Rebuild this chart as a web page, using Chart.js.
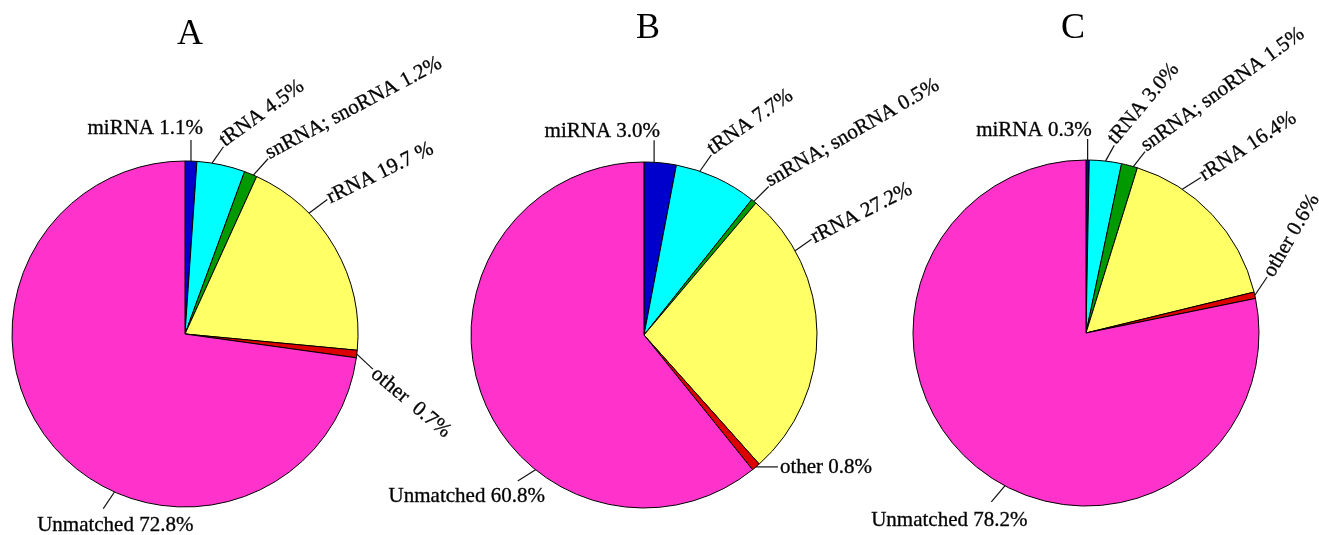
<!DOCTYPE html>
<html>
<head>
<meta charset="utf-8">
<script src="https://cdn.jsdelivr.net/npm/chart.js@4.4.1/dist/chart.umd.min.js"></script>
<style>
  html, body { margin: 0; padding: 0; background: #fff; }
  #wrap { position: relative; width: 1319px; height: 535px; overflow: hidden; }
  #wrap canvas { position: absolute; left: 0; top: 0; }
</style>
</head>
<body>
<div id="wrap">
  <canvas id="pieA" width="1319" height="535"></canvas>
  <canvas id="pieB" width="1319" height="535"></canvas>
  <canvas id="pieC" width="1319" height="535"></canvas>
</div>
<script>
// RNA classes, clockwise from 12 o'clock
const categories = ['miRNA', 'tRNA', 'snRNA; snoRNA', 'rRNA', 'other', 'Unmatched'];
// Percentage of reads in each class
const panelA = [1.1, 4.5, 1.2, 19.7, 0.7, 72.8];
const panelB = [3.0, 7.7, 0.5, 27.2, 0.8, 60.8];
const panelC = [0.3, 3.0, 1.5, 16.4, 0.6, 78.2];
const panelTitles = ['A', 'B', 'C'];

const sliceColors = ['#0000CC', '#00FFFF', '#009900', '#FFFF66', '#DD0000', '#FF33CC'];
const FONT = '"Liberation Serif", "Times New Roman", serif';
const W = 1319, H = 535, R = 173;

// Panel geometry and callout styling.
// frac: where along the slice the leader starts; dir/len: leader direction (deg) and length;
// rot: text rotation; tx/ty: text origin relative to leader end (in rotated frame).
const panels = [
  {
    id: 'pieA', values: panelA, title: panelTitles[0], cx: 185, cy: 334, titleX: 190, titleY: 44,
    callouts: [
      { frac: 0.5,  dir: -90, len: 21, rot: 0,   align: 'right',  tx: 12,  ty: -6 },
      { frac: 0.31, dir: -55, len: 20, rot: -36, align: 'left',   tx: 1,   ty: 1 },
      { frac: 0.72, dir: -48, len: 22, rot: -28, align: 'left',   tx: 1,   ty: 1 },
      { frac: 0.30, dir: -37, len: 23, rot: -26, align: 'left',   tx: 1,   ty: 5, pctGap: ' ' },
      { frac: 0.5,  dir: 43,  len: 22, rot: 40,  align: 'left',   tx: 2,   ty: 7, nameGap: '  ' },
      { frac: 0.405, dir: 124, len: 20, rot: 0,  align: 'center', tx: 12,  ty: 22 }
    ]
  },
  {
    id: 'pieB', values: panelB, title: panelTitles[1], cx: 644, cy: 335, titleX: 648, titleY: 38,
    callouts: [
      { frac: 0.31, dir: -90, len: 22, rot: 0,   align: 'right',  tx: 6,   ty: -3 },
      { frac: 0.29, dir: -55, len: 20, rot: -35, align: 'left',   tx: 1,   ty: 1 },
      { frac: 0.5,  dir: -45, len: 21, rot: -30, align: 'left',   tx: 1,   ty: 1 },
      { frac: 0.21, dir: -35, len: 20, rot: -27, align: 'left',   tx: 1,   ty: 5 },
      { frac: 0.5,  dir: 0,   len: 22, rot: 0,   align: 'left',   tx: 2,   ty: 6 },
      { frac: 0.355, dir: 148, len: 21, rot: 0,  align: 'center', tx: -51, ty: 21 }
    ]
  },
  {
    id: 'pieC', values: panelC, title: panelTitles[2], cx: 1086, cy: 333, titleX: 1073, titleY: 38,
    callouts: [
      { frac: 0.5,  dir: -90, len: 21, rot: 0,   align: 'right',  tx: 4,   ty: -3 },
      { frac: 0.5,  dir: -61, len: 18, rot: -50, align: 'left',   tx: 1,   ty: 1 },
      { frac: 0.74, dir: -52, len: 19, rot: -36, align: 'left',   tx: 1,   ty: 1 },
      { frac: 0.28, dir: -32, len: 22, rot: -33, align: 'left',   tx: 1,   ty: 5 },
      { frac: 0.5,  dir: -56, len: 22, rot: -60, align: 'left',   tx: 2,   ty: 6 },
      { frac: 0.46, dir: 130, len: 21, rot: 0,   align: 'center', tx: -42, ty: 24 }
    ]
  }
];

function calloutText(name, value, c) {
  return name + (c.nameGap || ' ') + value.toFixed(1) + (c.pctGap || '') + '%';
}

// Draws leader lines with class/percentage labels and the panel letter
const calloutPlugin = {
  id: 'callouts',
  afterDatasetsDraw(chart, args, opts) {
    const { ctx } = chart;
    const panel = opts.panel;
    const meta = chart.getDatasetMeta(0);
    const values = chart.data.datasets[0].data;
    ctx.save();
    ctx.font = '21px ' + FONT;
    ctx.fillStyle = '#000';
    ctx.strokeStyle = '#111';
    meta.data.forEach((arc, i) => {
      const c = panel.callouts[i];
      const p = arc.getProps(['x', 'y', 'startAngle', 'endAngle', 'outerRadius'], true);
      const a = p.startAngle + (p.endAngle - p.startAngle) * c.frac;
      const sx = p.x + p.outerRadius * Math.cos(a);
      const sy = p.y + p.outerRadius * Math.sin(a);
      const d = c.dir * Math.PI / 180;
      const ex = sx + c.len * Math.cos(d);
      const ey = sy + c.len * Math.sin(d);
      ctx.lineWidth = 1.2;
      ctx.beginPath();
      ctx.moveTo(sx, sy);
      ctx.lineTo(ex, ey);
      ctx.stroke();
      ctx.save();
      ctx.translate(ex, ey);
      ctx.rotate(c.rot * Math.PI / 180);
      ctx.textAlign = c.align;
      ctx.textBaseline = 'alphabetic';
      const txt = calloutText(chart.data.labels[i], values[i], c);
      ctx.fillText(txt, c.tx, c.ty);
      ctx.lineWidth = 0.35;
      ctx.strokeText(txt, c.tx, c.ty);
      ctx.restore();
    });
    ctx.font = '36px ' + FONT;
    ctx.textAlign = 'center';
    ctx.textBaseline = 'alphabetic';
    ctx.fillText(panel.title, panel.titleX, panel.titleY);
    ctx.restore();
  }
};

panels.forEach(panel => {
  new Chart(document.getElementById(panel.id), {
    type: 'pie',
    data: {
      labels: categories,
      datasets: [{
        data: panel.values,
        backgroundColor: sliceColors,
        borderColor: '#000',
        borderWidth: 1,
        radius: R
      }]
    },
    options: {
      responsive: false,
      animation: false,
      events: [],
      layout: {
        padding: {
          left: panel.cx - R,
          right: W - panel.cx - R,
          top: panel.cy - R,
          bottom: H - panel.cy - R
        }
      },
      plugins: {
        legend: { display: false },
        tooltip: { enabled: false },
        title: { display: false },
        callouts: { panel: panel }
      }
    },
    plugins: [calloutPlugin]
  });
});
</script>
</body>
</html>
